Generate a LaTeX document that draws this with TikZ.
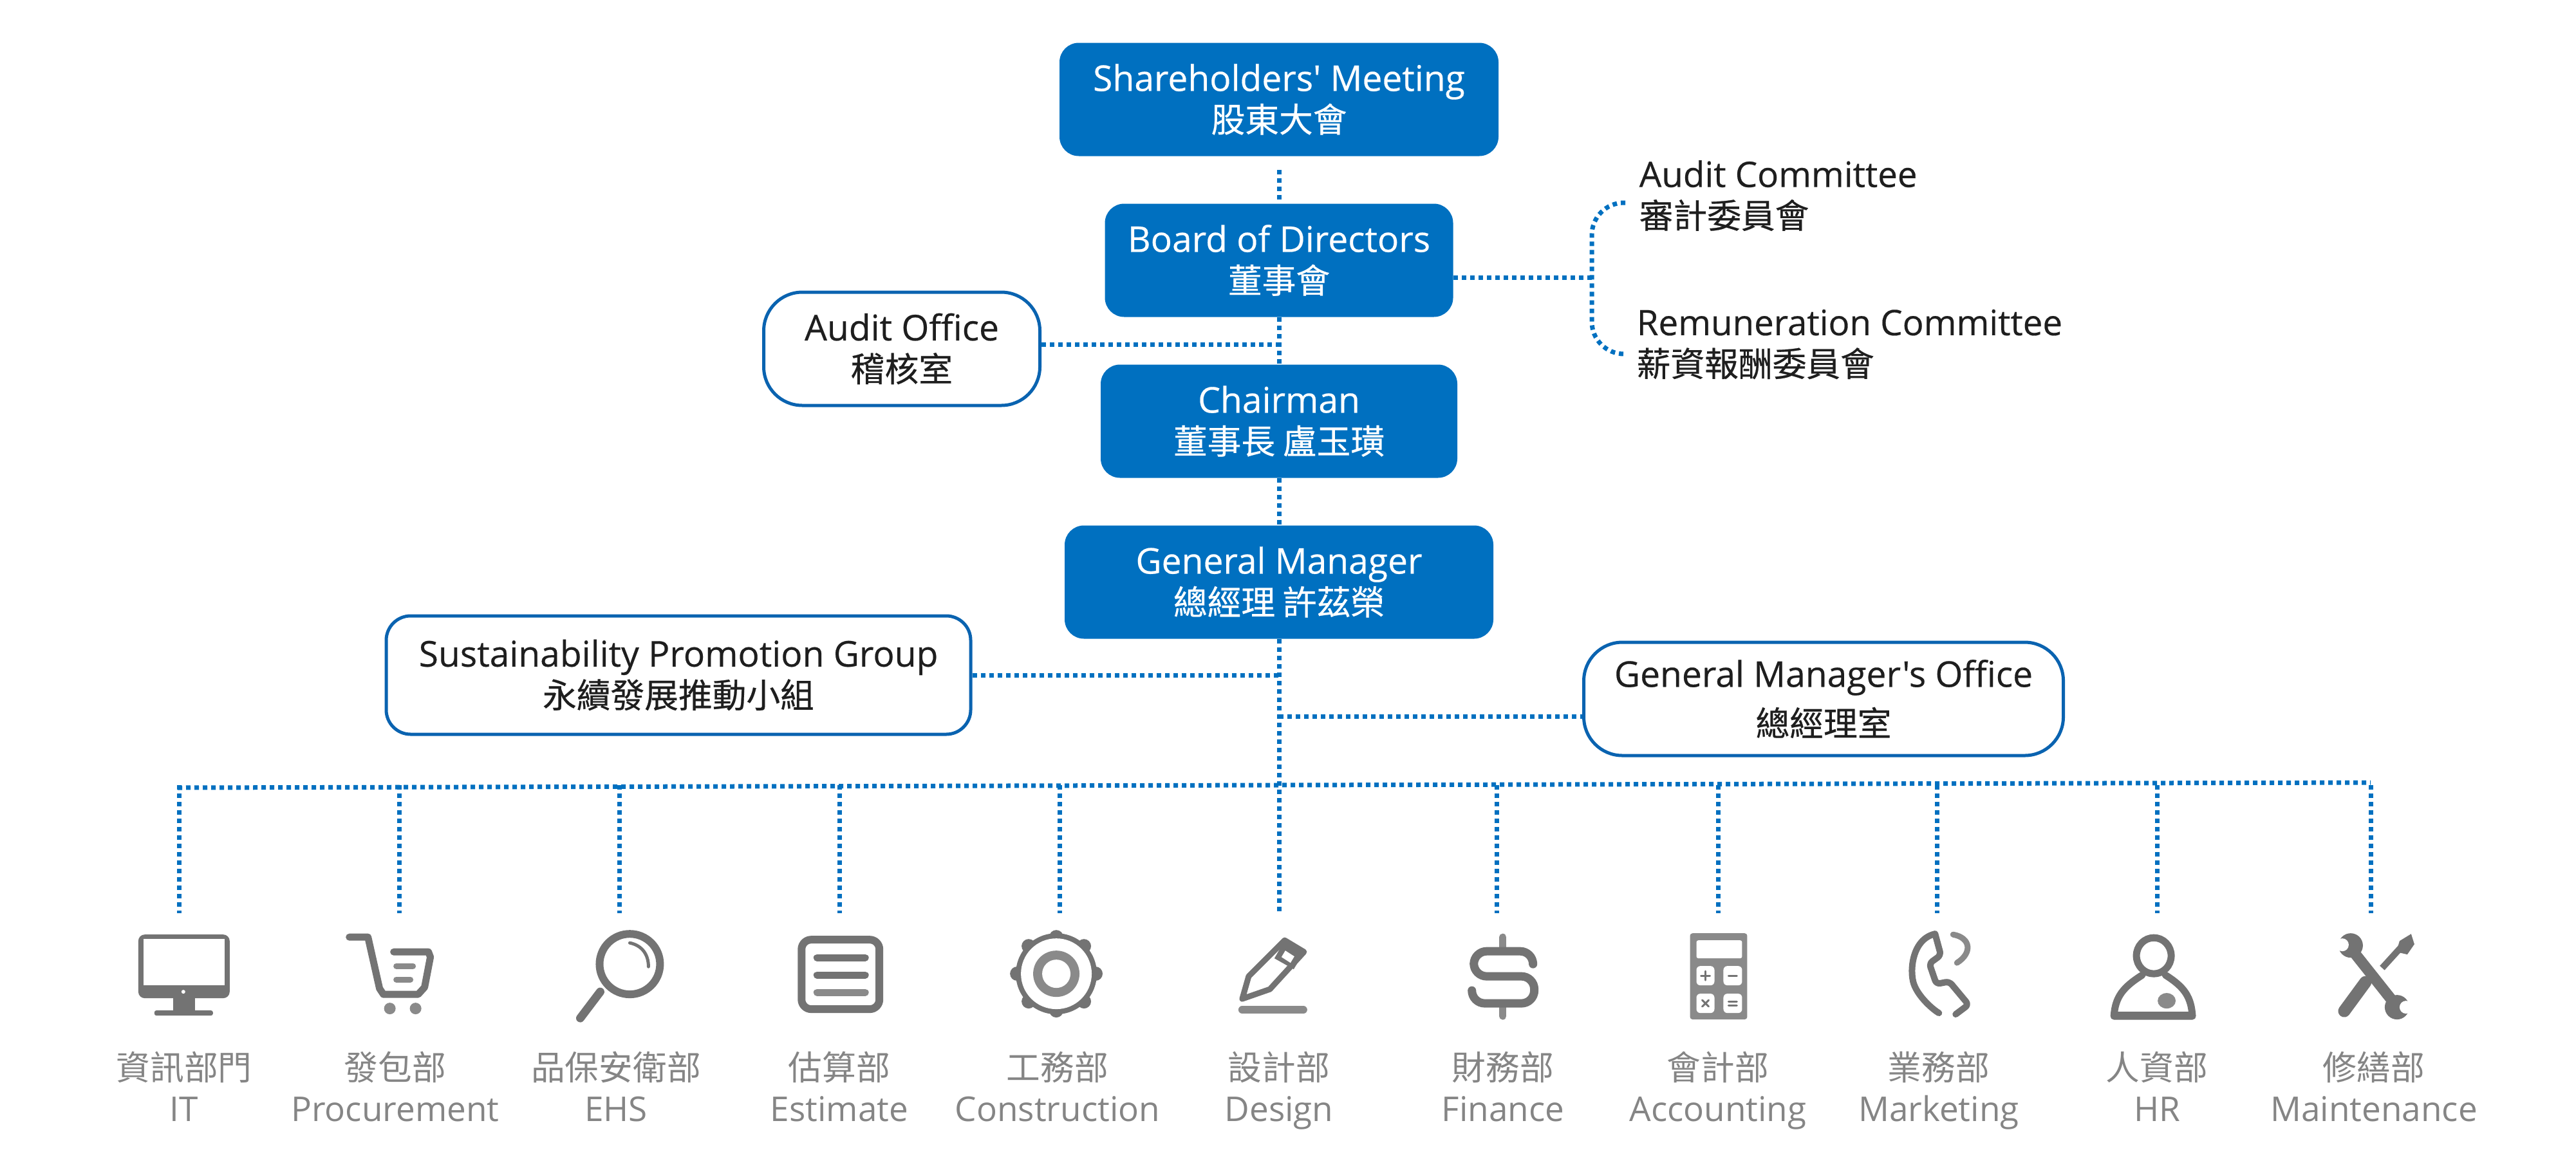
\documentclass[tikz,border=0pt]{standalone}
\usepackage{fontspec}
\newfontfamily\eng{Open Sans}[FakeBold=0.35]
\newfontfamily\engplain{Open Sans}
\newfontfamily\cjk{Noto Sans CJK TC}
\newfontfamily\cjkmed{Noto Sans CJK TC}[FakeBold=0.45]
\newcommand{\zh}[1]{{\cjkmed\fontsize{15}{18.2}\selectfont #1}}
\newcommand{\zhdept}[1]{{\cjk\fontsize{15}{18.2}\selectfont #1}}
\definecolor{boxblue}{HTML}{0070C0}
\definecolor{edgeblue}{HTML}{0A63B0}
\definecolor{inkdark}{HTML}{1E1E1E}
\definecolor{deptgrey}{HTML}{858585}
\definecolor{icongrey}{HTML}{737373}
\definecolor{iconlight}{HTML}{8A8A8A}
\tikzset{
  boss/.style={rectangle, rounded corners=.3cm, fill=boxblue, text=white, align=center, inner sep=0pt,
    minimum height=1.76cm, font=\eng\fontsize{15.7}{18.2}\selectfont, execute at begin node={\rule{0pt}{13.2pt}}},
  office/.style={rectangle, rounded corners=.6cm, draw=edgeblue, line width=.05cm, fill=white, text=inkdark,
    align=center, inner sep=0pt, minimum height=1.76cm, font=\eng\fontsize{15.7}{18.2}\selectfont,
    execute at begin node={\rule{0pt}{13.2pt}}},
  committee/.style={anchor=west, align=left, inner sep=0pt, text=inkdark, font=\eng\fontsize{15.55}{18.2}\selectfont},
  dept/.style={anchor=north, align=center, inner sep=0pt, text=deptgrey, font=\engplain\fontsize{15.1}{18.2}\selectfont},
  link/.style={draw=boxblue, line width=.07cm, dash pattern=on .07cm off .06cm},
  icon/.style={draw=icongrey, line width=.11cm, line cap=round, line join=round},
  iconfill/.style={fill=icongrey}
}
\begin{document}
\begin{tikzpicture}[node distance = 2.5cm]
\useasboundingbox (0,0) rectangle (40.02,-17.86);

\node (sm) [boss, minimum width=6.82cm] at (19.87,-1.545) {Shareholders' Meeting\\\zh{股東大會}};
\node (bod) [boss, minimum width=5.41cm, below of=sm] {Board of Directors\\\zh{董事會}};
\node (chair) [boss, minimum width=5.54cm, below of=bod] {Chairman\\\zh{董事長 盧玉璜}};
\node (gm) [boss, minimum width=6.66cm, below of=chair] {General Manager\\\zh{總經理 許茲榮}};

\node (aud) [office, minimum width=4.29cm] at (14.01,-5.42) {Audit Office\\\zh{稽核室}};
\node (spg) [office, rounded corners=.38cm, minimum width=9.08cm, minimum height=1.84cm] at (10.54,-10.49) {Sustainability Promotion Group\\\zh{永續發展推動小組}};
\node (gmo) [office, minimum width=7.45cm] at (28.33,-10.86) {General Manager's Office\\[3.5pt]\zh{總經理室}};

\node (ac) [committee] at (25.46,-3.04) {Audit Committee\\\zh{審計委員會}};
\node (rc) [committee] at (25.42,-5.35) {Remuneration Committee\\\zh{薪資報酬委員會}};

\node (it) [dept] at (2.86,-16.33) {\zhdept{資訊部門}\\IT};
\node (pro) [dept] at (6.14,-16.33) {\zhdept{發包部}\\Procurement};
\node (ehs) [dept] at (9.57,-16.33) {\zhdept{品保安衛部}\\EHS};
\node (est) [dept] at (13.04,-16.33) {\zhdept{估算部}\\Estimate};
\node (con) [dept] at (16.43,-16.33) {\zhdept{工務部}\\Construction};
\node (des) [dept] at (19.87,-16.33) {\zhdept{設計部}\\Design};
\node (fin) [dept] at (23.35,-16.33) {\zhdept{財務部}\\Finance};
\node (acc) [dept] at (26.69,-16.33) {\zhdept{會計部}\\Accounting};
\node (mkt) [dept] at (30.12,-16.33) {\zhdept{業務部}\\Marketing};
\node (hr) [dept] at (33.51,-16.33) {\zhdept{人資部}\\HR};
\node (mnt) [dept] at (36.88,-16.33) {\zhdept{修繕部}\\Maintenance};

% free ends of the dotted lines
\coordinate (audj) at (19.87,-5.35);
\coordinate (gmoj) at (19.87,-11.13);
\coordinate (brk) at (24.73,-4.31);
\coordinate (brkt) at (25.25,-3.15);
\coordinate (brkb) at (25.25,-5.5);
\coordinate (busl) at (2.76,-12.24);
\coordinate (busr) at (36.83,-12.16);
\coordinate (bus) at (19.87,-12.2);
\coordinate (dit) at (2.78,-14.19);
\coordinate (dpro) at (6.2,-14.19);
\coordinate (dehs) at (9.62,-14.19);
\coordinate (dest) at (13.04,-14.19);
\coordinate (dcon) at (16.46,-14.19);
\coordinate (ddes) at (19.87,-14.19);
\coordinate (dfin) at (23.25,-14.19);
\coordinate (dacc) at (26.69,-14.19);
\coordinate (dmkt) at (30.09,-14.19);
\coordinate (dhr) at (33.51,-14.19);
\coordinate (dmnt) at (36.83,-14.19);

\path [link] (sm) [shorten <=.21cm] -- (bod);
\path [link] (bod) -- (chair);
\path [link] (chair) -- (gm);
\path [link] (gm) -- (ddes);
\path [link] (aud.east |- audj) -- (audj);
\path [link] (spg.east) -- (spg.east -| gm);
\path [link] (gmoj) -- (gmoj -| gmo.west);
\path [link] (bod.east |- brk) -- (brk);
\path [link, rounded corners=.5cm] (brkt) -| (brk) |- (brkb);
\path [link] (busl) -- (busr);
\path [link] (dit |- bus) -- (dit);
\path [link] (dpro |- bus) -- (dpro);
\path [link] (dehs |- bus) -- (dehs);
\path [link] (dest |- bus) -- (dest);
\path [link] (dcon |- bus) -- (dcon);
\path [link] (dfin |- bus) -- (dfin);
\path [link] (dacc |- bus) -- (dacc);
\path [link] (dmkt |- bus) -- (dmkt);
\path [link] (dhr |- bus) -- (dhr);
\path [link] (dmnt |- bus) -- (dmnt);

% icons, in pixels of the page
\begin{scope}[x=.01cm, y=-.01cm]
% monitor
\fill [iconfill, rounded corners=.1cm] (215,1453) rectangle (357,1552);
\fill [white] (223,1460) rectangle (349,1532);
\fill [white] (285,1542) circle (3);
\fill [iconfill] (269,1552) rectangle (303,1575);
\fill [iconfill, rounded corners=.03cm] (240,1571) rectangle (331,1579);
% cart
\draw [icon] (543,1457) -- (572,1457) -- (590,1537) -- (596,1546) -- (650,1546) -- (660,1535) -- (669,1488) -- (666,1480) -- (612,1480);
\draw [icon, draw=iconlight, line width=.09cm] (616,1502) -- (642,1502);
\draw [icon, draw=iconlight, line width=.09cm] (616,1523) -- (638,1523);
\fill [iconlight] (606,1568) circle (9);
\fill [iconlight] (646,1568) circle (9);
% magnifier
\draw [icon, line width=.12cm] (979,1499) circle (47);
\draw [icon, line width=.05cm] (979,1466) .. controls (998,1470) and (1008,1484) .. (1008,1503);
\draw [icon, line width=.13cm] (902,1583) -- (933,1542);
% estimate
\draw [icon, line width=.12cm, rounded corners=.15cm] (1246,1461) rectangle (1367,1569);
\draw [icon] (1270,1489) -- (1345,1489);
\draw [icon] (1270,1516) -- (1345,1516);
\draw [icon, draw=iconlight] (1270,1543) -- (1345,1543);
% gear
\fill [iconfill] (1642,1514) circle (63);
\draw [icon, line width=.22cm] (1581,1514) -- (1703,1514);
\draw [icon, line width=.22cm] (1642,1457) -- (1642,1571);
\draw [icon, line width=.22cm] (1599,1471) -- (1685,1557);
\draw [icon, line width=.22cm] (1599,1557) -- (1685,1471);
\fill [white] (1642,1514) circle (55);
\fill [iconlight] (1642,1514) circle (36);
\fill [white] (1642,1514) circle (22);
% pencil
\draw [icon, line width=.09cm] (1931,1553) -- (1941,1518) -- (1997,1462) -- (2027,1480) -- (1974,1538) -- cycle;
\fill [iconfill] (1997,1462) -- (2027,1480) -- (2011,1507) -- (1981,1490) -- cycle;
\fill [white] (1998,1478) -- (2012,1487) -- (2006,1497) -- (1992,1488) -- cycle;
\draw [icon, draw=iconlight, line width=.12cm] (1931,1570) -- (2026,1570);
% dollar
\draw [icon, draw=iconlight] (2336,1457) -- (2336,1472);
\draw [icon, draw=iconlight] (2336,1566) -- (2336,1580);
\draw [icon, line width=.13cm, rounded corners=.2cm] (2383,1497) -- (2383,1479) -- (2291,1479) -- (2291,1518) -- (2385,1518) -- (2385,1560) -- (2288,1560) -- (2288,1540);
% calculator
\fill [iconfill, rounded corners=.04cm, fill=iconlight] (2627,1451) rectangle (2716,1585);
\fill [white, rounded corners=.03cm] (2637,1462) rectangle (2708,1490);
\fill [white, rounded corners=.06cm] (2637,1502) rectangle (2665,1532);
\fill [white, rounded corners=.06cm] (2679,1502) rectangle (2708,1532);
\fill [white, rounded corners=.06cm] (2637,1545) rectangle (2665,1575);
\fill [white, rounded corners=.06cm] (2679,1545) rectangle (2708,1575);
\draw [icon, line width=.03cm] (2644,1517) -- (2658,1517) (2651,1510) -- (2651,1524);
\draw [icon, line width=.03cm] (2687,1517) -- (2700,1517);
\draw [icon, line width=.03cm] (2646,1555) -- (2656,1565) (2656,1555) -- (2646,1565);
\draw [icon, line width=.03cm] (2687,1557) -- (2700,1557) (2687,1563) -- (2700,1563);
% phone
\draw [icon, line width=.1cm] (3008,1452) .. controls (2972,1460) and (2968,1510) .. (2975,1530) .. controls (2982,1550) and (3005,1570) .. (3014,1575);
\draw [icon, line width=.1cm, rounded corners=.06cm] (3008,1452) -- (3017,1485) -- (2999,1498) -- (3010,1530) -- (3030,1526) -- (3060,1562) -- (3040,1577);
\draw [icon, draw=iconlight, line width=.09cm] (3036,1453) .. controls (3064,1458) and (3066,1482) .. (3042,1497);
% person
\draw [icon] (3348,1486) ellipse (27 and 28);
\draw [icon] (3330,1516) .. controls (3300,1535) and (3288,1550) .. (3286,1580) -- (3408,1580) .. controls (3406,1550) and (3396,1535) .. (3366,1516);
\fill [iconfill, rounded corners=.05cm] (3281,1573) rectangle (3413,1585);
\fill [iconlight] (3368,1556) ellipse (14 and 12);
% tools
\draw [icon, line width=.17cm] (3657,1478) -- (3722,1560);
\fill [iconfill] (3654,1470) circle (19);
\fill [iconfill] (3726,1566) circle (19);
\fill [white] (3641,1469) circle (10);
\fill [white] (3740,1566) circle (10);
\draw [icon, line width=.1cm, line cap=butt] (3703,1505) -- (3733,1472);
\fill [iconfill] (3725,1480) -- (3730,1463) -- (3748,1452) -- (3753,1468) -- (3742,1484) -- cycle;
\draw [icon, line width=.19cm] (3677,1527) -- (3644,1572);
\end{scope}
\end{tikzpicture}
\end{document}
